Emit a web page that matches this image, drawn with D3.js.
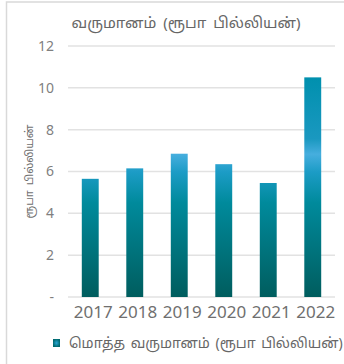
<!DOCTYPE html>
<html><head><meta charset="utf-8">
<script src="https://cdn.jsdelivr.net/npm/d3@7"></script>
<style>html,body{margin:0;padding:0;background:#fff;}svg{display:block;}</style>
</head><body>
<script>
const categories = ["2017","2018","2019","2020","2021","2022"];
const values = [5.65, 6.15, 6.85, 6.35, 5.45, 10.5];
const yTicks = [0, 2, 4, 6, 8, 10, 12];
const title = "வருமானம் (ரூபா பில்லியன்)";
const yTitle = "ரூபா பில்லியன்";
const seriesName = "மொத்த வருமானம் (ரூபா பில்லியன்)";

const W = 344, H = 364;
const font = "'Noto Sans', 'Noto Sans Tamil', sans-serif";
const svg = d3.select("body").append("svg").attr("width", W).attr("height", H);

// border
svg.append("rect").attr("x", 6.5).attr("y", 2).attr("width", W).attr("height", H)
  .attr("fill", "none").attr("stroke", "#d9d9d9").attr("stroke-width", 1.5);

const x = d3.scaleBand().domain(categories).range([68, 335]).paddingInner(0.62).paddingOuter(0.31);
const y = d3.scaleLinear().domain([0, 12]).range([297, 46]);

const defs = svg.append("defs");
const g = defs.append("linearGradient").attr("id", "barGrad")
  .attr("gradientUnits", "userSpaceOnUse")
  .attr("x1", 0).attr("x2", 0).attr("y1", y(0)).attr("y2", y(10.5));
[[0, "#005d5e"], [0.43, "#008a9c"], [0.57, "#1c9cc6"], [0.65, "#46aede"], [0.72, "#1a98c0"], [1, "#0090ae"]]
  .forEach(([o, c]) => g.append("stop").attr("offset", o).attr("stop-color", c));
const rg = defs.append("radialGradient").attr("id", "legGrad");
rg.append("stop").attr("offset", 0).attr("stop-color", "#2aa6d4");
rg.append("stop").attr("offset", 1).attr("stop-color", "#006a70");

// gridlines
svg.append("g").selectAll("line").data(yTicks).join("line")
  .attr("x1", 68).attr("x2", 335)
  .attr("y1", d => y(d)).attr("y2", d => y(d))
  .attr("stroke", "#e2e2e2").attr("stroke-width", 1.5);

// y tick labels
svg.append("g").selectAll("text").data(yTicks).join("text")
  .attr("x", 54).attr("y", d => y(d)).attr("dy", "0.35em")
  .attr("text-anchor", "end").attr("font-family", font).attr("font-size", 14)
  .attr("fill", "#7f7f7f").text(d => d === 0 ? "-" : d);

// bars
svg.append("g").selectAll("rect").data(values).join("rect")
  .attr("x", (d, i) => x(categories[i])).attr("width", x.bandwidth())
  .attr("y", d => y(d)).attr("height", d => y(0) - y(d))
  .attr("fill", "url(#barGrad)");

// x labels
svg.append("g").selectAll("text").data(categories).join("text")
  .attr("x", d => x(d) + x.bandwidth() / 2 + 3).attr("y", 318)
  .attr("text-anchor", "middle").attr("font-family", font).attr("font-size", 17)
  .attr("fill", "#6f6f6f").text(d => d);

// title
svg.append("text").attr("x", 186).attr("y", 28).attr("text-anchor", "middle")
  .attr("font-family", font).attr("font-size", 15).attr("word-spacing", 3)
  .attr("fill", "#666666").text(title);

// y title
svg.append("text").attr("transform", `translate(33,${(y(0) + y(12)) / 2}) rotate(-90)`)
  .attr("text-anchor", "middle").attr("font-family", font).attr("font-size", 11)
  .attr("word-spacing", 2).attr("fill", "#6f6f6f").text(yTitle);

// legend
svg.append("rect").attr("x", 53).attr("y", 339).attr("width", 7).attr("height", 8)
  .attr("fill", "url(#legGrad)");
svg.append("text").attr("x", 69).attr("y", 348).attr("font-family", font).attr("font-size", 14)
  .attr("word-spacing", 2).attr("fill", "#666666").text(seriesName);
</script>
</body></html>
